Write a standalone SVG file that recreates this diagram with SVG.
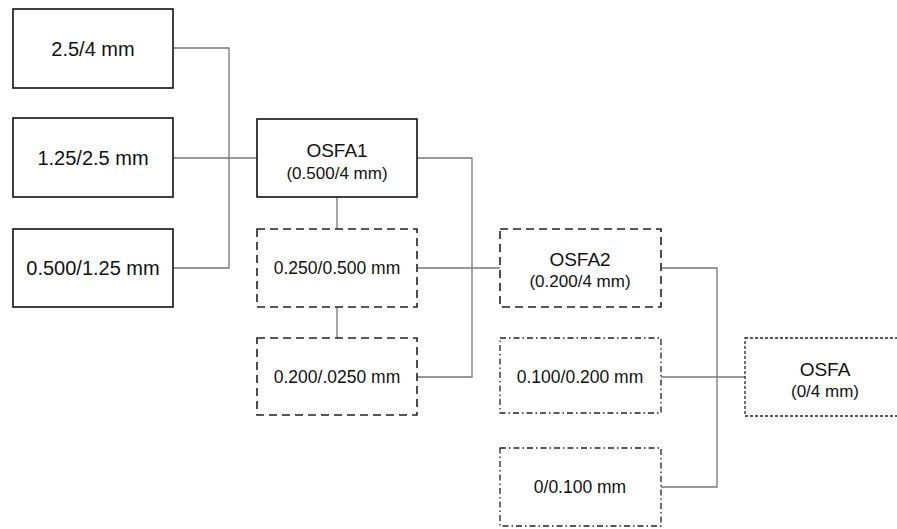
<svg xmlns="http://www.w3.org/2000/svg" width="897" height="529" viewBox="0 0 897 529">
<style>
  text { font-family: "Liberation Sans", Arial, sans-serif; fill: #111; text-anchor: middle; }
  .big { font-size: 20px; }
  .hd { font-size: 19px; }
  .sub { font-size: 17px; }
  .mid { font-size: 17.5px; }
  .solid { fill: #fff; stroke: #111; stroke-width: 1.6; }
  .dash { fill: #fff; stroke: #222; stroke-width: 1.6; stroke-dasharray: 8 5; }
  .dashdot { fill: #fff; stroke: #222; stroke-width: 1.3; stroke-dasharray: 6 3 1.5 3; }
  .fine { fill: #fff; stroke: #222; stroke-width: 1.3; stroke-dasharray: 3 2; }
  .conn { fill: none; stroke: #777; stroke-width: 1.3; }
</style>
<g id="connectors">
  <polyline class="conn" points="173,48 229,48 229,268 173,268"/>
  <line class="conn" x1="173" y1="158" x2="257" y2="158"/>
  <polyline class="conn" points="417,158 472,158 472,377 417,377"/>
  <line class="conn" x1="337" y1="197" x2="337" y2="229"/>
  <line class="conn" x1="337" y1="307" x2="337" y2="338"/>
  <line class="conn" x1="417" y1="268" x2="500" y2="268"/>
  <polyline class="conn" points="661,268 717,268 717,487 661,487"/>
  <line class="conn" x1="661" y1="377" x2="745" y2="377"/>
</g>
<g id="n1"><rect class="solid" x="13" y="9" width="160" height="79"/><text class="big" x="93" y="56">2.5/4 mm</text></g>
<g id="n2"><rect class="solid" x="13" y="118" width="160" height="79"/><text class="big" x="93" y="165">1.25/2.5 mm</text></g>
<g id="n3"><rect class="solid" x="13" y="229" width="160" height="78"/><text class="big" x="93" y="275">0.500/1.25 mm</text></g>
<g id="osfa1"><rect class="solid" x="257" y="119" width="160" height="78"/><text class="hd" x="337" y="157">OSFA1</text><text class="sub" x="337" y="179">(0.500/4 mm)</text></g>
<g id="n4"><rect class="dash" x="257" y="229" width="160" height="78"/><text class="mid" x="337" y="274">0.250/0.500 mm</text></g>
<g id="n5"><rect class="dash" x="257" y="338" width="160" height="77"/><text class="mid" x="337" y="383">0.200/.0250 mm</text></g>
<g id="osfa2"><rect class="dash" x="500" y="229" width="161" height="78"/><text class="hd" x="580" y="266">OSFA2</text><text class="sub" x="580" y="287">(0.200/4 mm)</text></g>
<g id="n6"><rect class="dashdot" x="500" y="338" width="161" height="75"/><text class="mid" x="580" y="383">0.100/0.200 mm</text></g>
<g id="n7"><rect class="dashdot" x="500" y="448" width="161" height="78"/><text class="mid" x="580" y="493">0/0.100 mm</text></g>
<g id="osfa"><rect class="fine" x="745" y="338" width="160" height="78"/><text class="hd" x="825" y="376">OSFA</text><text class="sub" x="825" y="397">(0/4 mm)</text></g>
</svg>
